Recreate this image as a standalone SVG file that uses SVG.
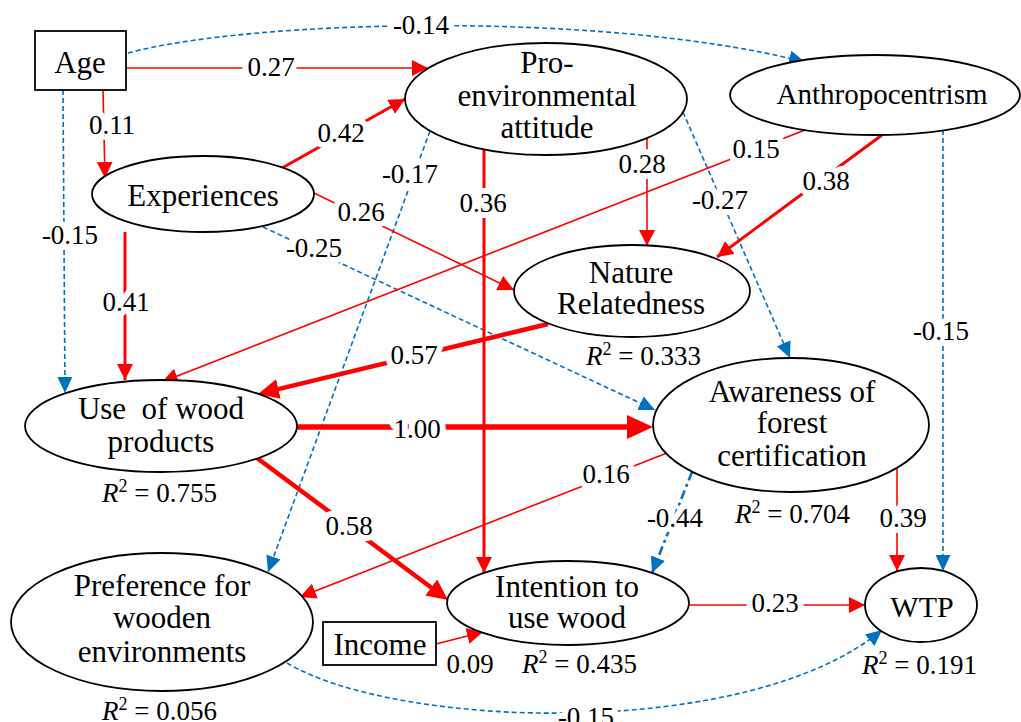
<svg xmlns="http://www.w3.org/2000/svg" width="1021" height="722" viewBox="0 0 1021 722" font-family="Liberation Serif, DejaVu Serif, serif">
<style>
  .node { fill: #fff; stroke: #000; stroke-width: 1.8; }
  .nl { font-size: 31px; text-anchor: middle; font-family: "Liberation Serif", "DejaVu Serif", serif; }
  .lbl { font-size: 27px; text-anchor: middle; stroke: #fff; stroke-width: 12px; stroke-linejoin: round; paint-order: stroke; font-family: "Liberation Serif", "DejaVu Serif", serif; }
  .r2 { font-size: 27px; font-family: "Liberation Serif", "DejaVu Serif", serif; }
  .pos { fill: none; stroke: #FF0000; stroke-width: 1.6; }
  .pos3 { fill: none; stroke: #FF0000; stroke-width: 3; }
  .pos4 { fill: none; stroke: #FF0000; stroke-width: 4.5; }
  .pos5 { fill: none; stroke: #FF0000; stroke-width: 5.5; }
  .neg { fill: none; stroke: #0070C0; stroke-width: 1.6; stroke-dasharray: 5 3; }
  .negdd { fill: none; stroke: #0070C0; stroke-width: 2.6; stroke-dasharray: 9 4 3 4; }
</style>
<defs>
  <marker id="arS" markerUnits="userSpaceOnUse" markerWidth="16" markerHeight="16" refX="16" refY="8" orient="auto">
    <path d="M0,0 L16,8 L0,16 z" fill="#FF0000"/>
  </marker>
  <marker id="arM" markerUnits="userSpaceOnUse" markerWidth="21" markerHeight="20" refX="13" refY="10" orient="auto">
    <path d="M0,0 L21,10 L0,20 z" fill="#FF0000"/>
  </marker>
  <marker id="arL" markerUnits="userSpaceOnUse" markerWidth="26" markerHeight="24" refX="16" refY="12" orient="auto">
    <path d="M0,0 L26,12 L0,24 z" fill="#FF0000"/>
  </marker>
  <marker id="abS" markerUnits="userSpaceOnUse" markerWidth="16" markerHeight="15" refX="16" refY="7.5" orient="auto">
    <path d="M0,0 L16,7.5 L0,15 z" fill="#0070C0"/>
  </marker>
</defs>
<rect width="1021" height="722" fill="#fff"/>

<g id="connectors">
  <path class="neg" d="M128,53 C250,20 600,10 805,62" marker-end="url(#abS)"/>
  <path class="neg" d="M63,90 L65,393" marker-end="url(#abS)"/>
  <path class="neg" d="M263,227 L655,410" marker-end="url(#abS)"/>
  <path class="neg" d="M943,130 L943,571" marker-end="url(#abS)"/>
  <path class="neg" d="M430,131 L268,572" marker-end="url(#abS)"/>
  <path class="neg" d="M683,112 L790,358" marker-end="url(#abS)"/>
  <path class="negdd" d="M692,472 L652,573" marker-end="url(#abS)"/>
  <path class="neg" d="M287,663 C400,730 750,740 882,630" marker-end="url(#abS)"/>
  <path class="pos" d="M126,68 L428,68" marker-end="url(#arS)"/>
  <path class="pos" d="M103,90 L105,178" marker-end="url(#arS)"/>
  <path class="pos3" d="M282,168 L405,99" marker-end="url(#arS)"/>
  <path class="pos" d="M314,193 L514,290" marker-end="url(#arS)"/>
  <path class="pos3" d="M125,232 L125,380" marker-end="url(#arS)"/>
  <path class="pos" d="M805,130 L162,382" marker-end="url(#arS)"/>
  <path class="pos3" d="M882,135 L717,257" marker-end="url(#arS)"/>
  <path class="pos" d="M647,138 L647,246" marker-end="url(#arS)"/>
  <path class="pos3" d="M484,149 L484,573" marker-end="url(#arS)"/>
  <path class="pos4" d="M548,324 L265.8,392.1" marker-end="url(#arM)"/>
  <path class="pos5" d="M297,427 L643,427" marker-end="url(#arL)"/>
  <path class="pos4" d="M257,458 L441.6,595.2" marker-end="url(#arM)"/>
  <path class="pos" d="M667,453 L300,597" marker-end="url(#arS)"/>
  <path class="pos" d="M897,468 L897,571" marker-end="url(#arS)"/>
  <path class="pos" d="M689,605 L865,605" marker-end="url(#arS)"/>
  <path class="pos" d="M436,644 L483,632" marker-end="url(#arS)"/>
</g>

<g id="nodes">
  <g id="age">
    <rect class="node" x="35" y="31" width="91" height="59"/>
    <text class="nl" x="80" y="73">Age</text>
  </g>
  <g id="experiences">
    <ellipse class="node" cx="203" cy="194" rx="111" ry="38"/>
    <text class="nl" x="203" y="206">Experiences</text>
  </g>
  <g id="pro-environmental">
    <ellipse class="node" cx="546" cy="99" rx="141" ry="56"/>
    <text class="nl" x="547" y="73">Pro-</text>
    <text class="nl" x="547" y="106">environmental</text>
    <text class="nl" x="547" y="138">attitude</text>
  </g>
  <g id="anthropocentrism">
    <ellipse class="node" cx="875" cy="95" rx="145" ry="40"/>
    <text class="nl" x="882" y="104" style="font-size:29px">Anthropocentrism</text>
  </g>
  <g id="nature">
    <ellipse class="node" cx="632" cy="291" rx="118" ry="46"/>
    <text class="nl" x="631" y="283">Nature</text>
    <text class="nl" x="631" y="314">Relatedness</text>
    <text class="r2" x="586" y="365"><tspan font-style="italic">R</tspan><tspan dy="-10" font-size="18">2</tspan><tspan dy="10"> = 0.333</tspan></text>
  </g>
  <g id="awareness">
    <ellipse class="node" cx="791" cy="425" rx="138" ry="67"/>
    <text class="nl" x="792" y="402">Awareness of</text>
    <text class="nl" x="792" y="433">forest</text>
    <text class="nl" x="792" y="466">certification</text>
    <text class="r2" x="735" y="523"><tspan font-style="italic">R</tspan><tspan dy="-10" font-size="18">2</tspan><tspan dy="10"> = 0.704</tspan></text>
  </g>
  <g id="use">
    <ellipse class="node" cx="161" cy="426" rx="136" ry="46"/>
    <text class="nl" x="161" y="419" style="white-space:pre">Use  of wood</text>
    <text class="nl" x="161" y="452">products</text>
    <text class="r2" x="102" y="502"><tspan font-style="italic">R</tspan><tspan dy="-10" font-size="18">2</tspan><tspan dy="10"> = 0.755</tspan></text>
  </g>
  <g id="preference">
    <ellipse class="node" cx="162" cy="622" rx="151" ry="69"/>
    <text class="nl" x="162" y="596">Preference for</text>
    <text class="nl" x="162" y="628">wooden</text>
    <text class="nl" x="162" y="662">environments</text>
    <text class="r2" x="102" y="720"><tspan font-style="italic">R</tspan><tspan dy="-10" font-size="18">2</tspan><tspan dy="10"> = 0.056</tspan></text>
  </g>
  <g id="intention">
    <ellipse class="node" cx="568" cy="603" rx="121" ry="42"/>
    <text class="nl" x="567" y="597">Intention to</text>
    <text class="nl" x="567" y="628">use wood</text>
    <text class="r2" x="522" y="673"><tspan font-style="italic">R</tspan><tspan dy="-10" font-size="18">2</tspan><tspan dy="10"> = 0.435</tspan></text>
  </g>
  <g id="wtp">
    <ellipse class="node" cx="921" cy="605" rx="56" ry="37"/>
    <text class="nl" x="922" y="617" style="font-size:30px">WTP</text>
    <text class="r2" x="862" y="674"><tspan font-style="italic">R</tspan><tspan dy="-10" font-size="18">2</tspan><tspan dy="10"> = 0.191</tspan></text>
  </g>
  <g id="income">
    <rect class="node" x="323" y="622" width="113" height="43"/>
    <text class="nl" x="380" y="655">Income</text>
  </g>
</g>

<g id="labels">
  <text class="lbl" x="421" y="34">-0.14</text>
  <text class="lbl" x="271" y="76">0.27</text>
  <text class="lbl" x="112" y="134">0.11</text>
  <text class="lbl" x="70" y="244">-0.15</text>
  <text class="lbl" x="341" y="142">0.42</text>
  <text class="lbl" x="361" y="221">0.26</text>
  <text class="lbl" x="314" y="257">-0.25</text>
  <text class="lbl" x="126" y="311">0.41</text>
  <text class="lbl" x="410" y="183">-0.17</text>
  <text class="lbl" x="483" y="212">0.36</text>
  <text class="lbl" x="642" y="173">0.28</text>
  <text class="lbl" x="720" y="209">-0.27</text>
  <text class="lbl" x="756" y="158">0.15</text>
  <text class="lbl" x="826" y="190">0.38</text>
  <text class="lbl" x="941" y="340">-0.15</text>
  <text class="lbl" x="414" y="364">0.57</text>
  <text class="lbl" x="417" y="438">1.00</text>
  <text class="lbl" x="349" y="535">0.58</text>
  <text class="lbl" x="606" y="483">0.16</text>
  <text class="lbl" x="675" y="527">-0.44</text>
  <text class="lbl" x="903" y="527">0.39</text>
  <text class="lbl" x="775" y="612">0.23</text>
  <text class="lbl" x="470" y="673">0.09</text>
  <text class="lbl" x="586" y="726">-0.15</text>
</g>
</svg>
